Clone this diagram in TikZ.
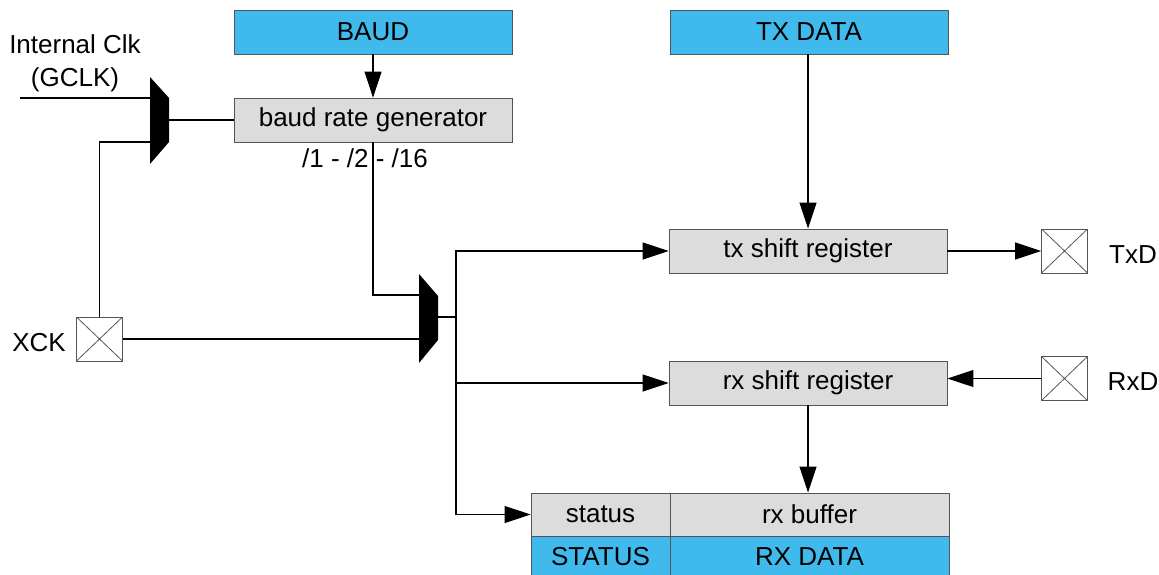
\documentclass[tikz,border=0pt]{standalone}
\usepackage{fontspec}
\setmainfont{Liberation Sans}
\usetikzlibrary{arrows.meta,calc}
\definecolor{regblue}{HTML}{40BAEC}
\definecolor{reggray}{HTML}{DCDCDC}
\definecolor{edgegray}{HTML}{555555}
\begin{document}
\begin{tikzpicture}[x=1pt,y=-1pt,
  every node/.style={font=\fontsize{26}{30}\selectfont},
  boxbase/.style={draw=edgegray,line width=0.9pt,minimum height=44pt,inner sep=0pt},
  grayreg/.style={boxbase,fill=reggray,minimum width=278pt},
  bluereg/.style={boxbase,fill=regblue,minimum width=278pt},
  pad/.style={draw=edgegray,line width=0.9pt,minimum width=46pt,minimum height=44pt,inner sep=0pt,
     path picture={\draw[line width=0.8pt] (path picture bounding box.north west)--(path picture bounding box.south east)
       (path picture bounding box.north east)--(path picture bounding box.south west);}},
  wire/.style={line width=1.1pt},
  arr/.style={wire,-{Triangle[length=26pt,width=17pt]}},
  lbl/.style={inner sep=0pt}
]
\useasboundingbox (0,0) rectangle (1159,575);

% registers
\node[bluereg] (baud) at (373,32) {BAUD};
\node[grayreg] (gen) at (373,120) {baud rate generator};
\node[bluereg] (txdata) at (809,32) {TX DATA};
\node[grayreg] (tx) at (808,251) {tx shift register};
\node[grayreg] (rx) at (808,383) {rx shift register};

% bottom table
\node[boxbase,fill=reggray,minimum width=139pt,minimum height=43pt] (status) at (600.5,514.5) {status};
\node[boxbase,fill=reggray,minimum width=279pt,minimum height=43pt] (rxbuf) at (809.5,514.5) {rx buffer};
\node[boxbase,fill=regblue,minimum width=139pt,minimum height=44pt,anchor=north] (STATUS) at (status.south) {};
\node[boxbase,fill=regblue,minimum width=279pt,minimum height=44pt,anchor=north] (RXDATA) at (rxbuf.south) {};
\node[lbl] at (600.5,557) {STATUS};
\node[lbl] at (809.5,557) {RX DATA};

% pads
\node[pad] (xck) at (99.5,339) {};
\node[pad] (txd) at (1064.5,251) {};
\node[pad] (rxd) at (1064.5,378.5) {};
\node[lbl] (xcklbl) at (39,343) {XCK};
\node[lbl] (txdlbl) at (1133,255) {TxD};
\node[lbl] (rxdlbl) at (1133,382) {RxD};

% labels
\node[lbl,align=center] (clklbl) at (75,63) {Internal Clk\\[3pt](GCLK)};
\node[lbl] (divlbl) at (365,158) {/1 - /2 - /16};

% mux 1
\fill (150,77) -- (169,98) -- (169,142) -- (150,164) -- cycle;
\coordinate (m1in1) at (150,98);
\coordinate (m1in2) at (150,142);
\coordinate (m1out) at (169,120);
\coordinate (clkin) at (20,98);
% mux 2
\fill (419,274) -- (438,296) -- (438,340) -- (419,363) -- cycle;
\coordinate (m2in1) at (419,295);
\coordinate (m2in2) at (419,339);
\coordinate (m2out) at (438,317);
\coordinate (bus) at (456,317);

% wires
\draw[wire] (clkin) -- (m1in1);
\draw[wire] (m1out) -- (gen.west |- m1out);
\draw[wire] (xck.north) |- (m1in2);
\draw[wire] (xck.east) -- (m2in2);
\draw[wire] (gen.south) |- (m2in1);
\draw[wire] (m2out) -- (bus);
\draw[arr] (bus) |- (tx.west);
\draw[arr] (bus) |- (rx.west);
\draw[arr] (bus) |- (status.west);
\draw[arr] (baud.south) -- (gen.north);
\draw[arr] (txdata.south -| tx.north) -- (tx.north);
\draw[arr] (tx.east) -- (txd.west |- tx.east);
\draw[arr] (rxd.west) -- (rx.east |- rxd.west);
\draw[arr] (rx.south) -- (rxbuf.north -| rx.south);
\end{tikzpicture}
\end{document}
